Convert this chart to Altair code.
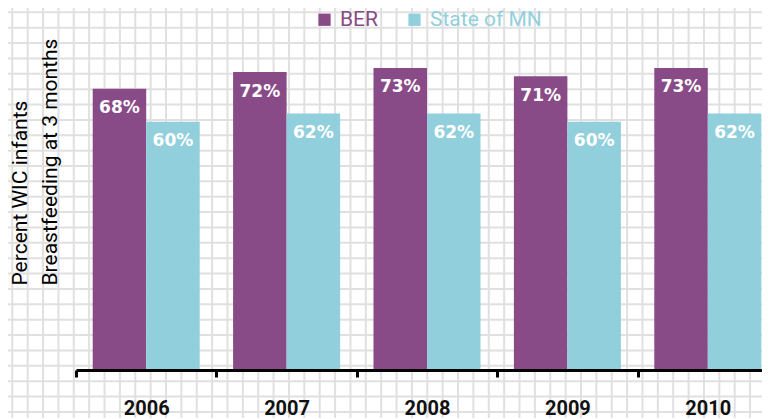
import altair as alt
import pandas as pd

years = ["2006", "2007", "2008", "2009", "2010"]
ber = [68, 72, 73, 71, 73]
mn = [60, 62, 62, 60, 62]
series = ["BER", "State of MN"]
colors = ["#894A88", "#92CFDC"]

grid_cols = list(range(0, 50))
grid_rows = list(range(0, 28))

rows = []
for y, a, b in zip(years, ber, mn):
    rows.append({"year": y, "series": series[0], "value": a})
    rows.append({"year": y, "series": series[1], "value": b})
df = pd.DataFrame(rows)

W, H = 686, 331
gridcolor = "#e0e0e0"
STEP = 15.37

vgrid = alt.Chart(pd.DataFrame({"i": grid_cols})).transform_calculate(
    gx=f"-63.7 + {STEP} * datum.i"
).mark_rule(color=gridcolor, strokeWidth=2).encode(
    x=alt.X("gx:Q", scale=None, axis=None),
    y=alt.value(-40),
    y2=alt.value(420),
)

hgrid = alt.Chart(pd.DataFrame({"j": grid_rows})).transform_calculate(
    gy=f"-26.7 + {STEP} * datum.j"
).mark_rule(color=gridcolor, strokeWidth=2).encode(
    y=alt.Y("gy:Q", scale=None, axis=None),
    x=alt.value(-80),
    x2=alt.value(720),
)

xscale = alt.Scale(domain=years, paddingInner=0, paddingOuter=0, range=[0, 702])
yscale = alt.Scale(domain=[0, 80], nice=False)
offscale = alt.Scale(domain=series, paddingOuter=0.312, paddingInner=0)

base = alt.Chart(df)

bars = base.mark_bar().encode(
    x=alt.X("year:N", scale=xscale, title=None,
            axis=alt.Axis(tickBand="extent", domainColor="black", domainWidth=3,
                          tickColor="black", tickWidth=3, tickSize=7, zindex=1,
                          labelFont="Roboto", labelFontSize=20, labelFontWeight="bold",
                          labelColor="#111111", labelPadding=21, labelAngle=0, grid=False)),
    xOffset=alt.XOffset("series:N", scale=offscale),
    y=alt.Y("value:Q", scale=yscale,
            axis=alt.Axis(labels=False, ticks=False, domain=False, grid=False, zindex=1,
                          title=["Percent WIC infants", "Breastfeeding at 3 months"],
                          titleFont="Roboto", titleFontSize=21, titleFontWeight="normal",
                          titleColor="black", titleAngle=-90, titleAlign="left",
                          titleBaseline="top", titleX=-67, titleY=246, titleLineHeight=30)),
    color=alt.Color("series:N", scale=alt.Scale(domain=series, range=colors),
                    legend=alt.Legend(title=None, orient="none", direction="horizontal",
                                      legendX=238, legendY=-30, symbolType="square",
                                      symbolSize=150, symbolStrokeWidth=0, zindex=1,
                                      labelFont="Roboto", labelFontSize=21,
                                      labelColor={"expr": "datum.label == 'BER' ? '#894A88' : '#92CFDC'"},
                                      labelOffset=5, columnPadding=26)),
)

text = base.transform_calculate(lbl="datum.value + '%'").mark_text(
    baseline="middle", dy=19.5, color="white", font="DejaVu Sans",
    fontWeight="bold", fontSize=17
).encode(
    x=alt.X("year:N", scale=xscale),
    xOffset=alt.XOffset("series:N", scale=offscale),
    y=alt.Y("value:Q", scale=yscale),
    text="lbl:N",
)

chart = alt.layer(vgrid, hgrid, bars, text).properties(
    width=W, height=H,
    autosize=alt.AutoSizeParams(type="none"),
    padding={"left": 68, "top": 31, "right": 0, "bottom": 48},
    background="white",
).configure_view(stroke=None)

chart.save("out.html", embed_options={"renderer": "svg", "actions": False})
